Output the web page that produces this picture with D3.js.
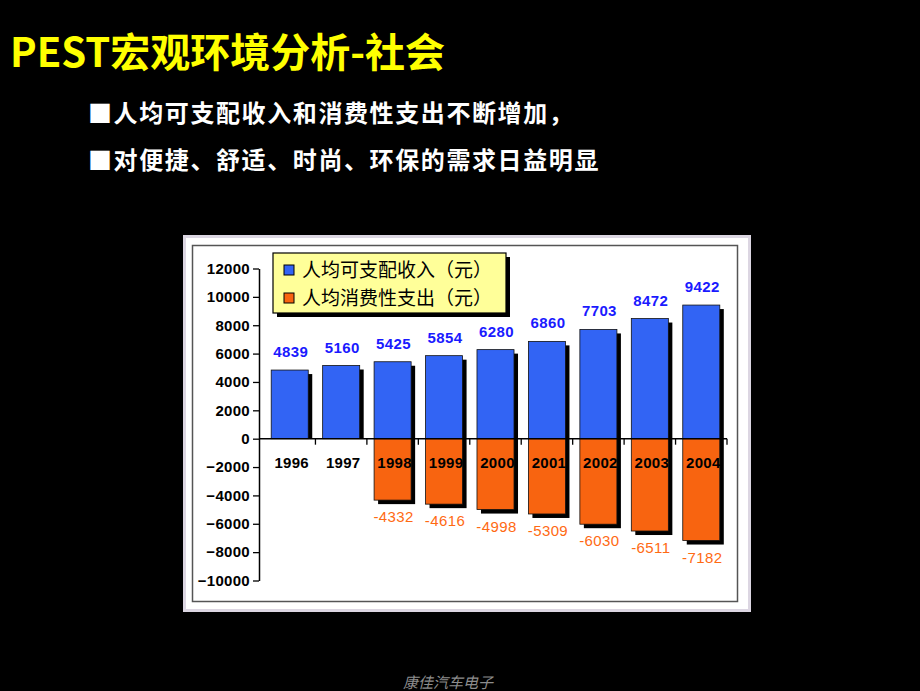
<!DOCTYPE html>
<html>
<head>
<meta charset="utf-8">
<script src="https://cdn.jsdelivr.net/npm/d3@7"></script>
<style>
  html, body { margin: 0; padding: 0; background: #000; }
  svg { display: block; }
</style>
</head>
<body>
<svg id="slide"></svg>
<script>
// data
const years = ["1996", "1997", "1998", "1999", "2000", "2001", "2002", "2003", "2004"];
const income = [4839, 5160, 5425, 5854, 6280, 6860, 7703, 8472, 9422];
const spending = [null, null, -4332, -4616, -4998, -5309, -6030, -6511, -7182];
const seriesNames = ["人均可支配收入（元）", "人均消费性支出（元）"];
const yTicks = [12000, 10000, 8000, 6000, 4000, 2000, 0, -2000, -4000, -6000, -8000, -10000];
const bullets = ["■人均可支配收入和消费性支出不断增加，", "■对便捷、舒适、时尚、环保的需求日益明显"];

const width = 920, height = 691;
const cjk = "'Noto Sans CJK SC', 'Noto Sans', sans-serif";
const latin = "'Liberation Sans', Arial, sans-serif";
const blue = "#3264f4", orange = "#f86410";

const svg = d3.select("#slide").attr("width", width).attr("height", height);
svg.append("rect").attr("width", width).attr("height", height).attr("fill", "#000");

// title + bullets
svg.append("text")
  .attr("x", 10).attr("y", 67)
  .attr("fill", "#ffff00")
  .style("font-family", cjk).style("font-weight", "bold").style("font-size", "40px")
  .text("PEST宏观环境分析-社会");

svg.selectAll(".bullet")
  .data(bullets)
  .enter()
  .append("text")
  .attr("class", "bullet")
  .attr("x", 88)
  .attr("y", (d, i) => 122 + i * 47)
  .attr("fill", "#fff")
  .style("font-family", cjk).style("font-weight", "bold").style("font-size", "24px")
  .style("letter-spacing", "1.6px")
  .text(d => d);

// chart panel
svg.append("rect")
  .attr("x", 184.5).attr("y", 236.5).attr("width", 565).attr("height", 374)
  .attr("fill", "#fff").attr("stroke", "#dcd6e2").attr("stroke-width", 3);
svg.append("rect")
  .attr("x", 192.5).attr("y", 245.5).attr("width", 545).attr("height", 356)
  .attr("fill", "none").attr("stroke", "#555").attr("stroke-width", 1.5);

const xScale = d3.scaleBand()
  .domain(years)
  .range([264, 727])
  .paddingInner(0.28)
  .paddingOuter(0.14);

const yScale = d3.scaleLinear()
  .domain([-10000, 12000])
  .range([580.5, 268.5]);

const y0 = yScale(0);
const bw = xScale.bandwidth();
const sh = 4;

const incomeData = years.map((y, i) => ({ year: y, v: income[i] }));
const spendData = years.map((y, i) => ({ year: y, v: spending[i] })).filter(d => d.v != null);

// shadows
svg.selectAll(".shadowPos")
  .data(incomeData)
  .enter()
  .append("rect")
  .attr("x", d => xScale(d.year) + sh)
  .attr("y", d => yScale(d.v) + sh)
  .attr("width", bw)
  .attr("height", d => y0 - yScale(d.v) - sh)
  .attr("fill", "#000");

svg.selectAll(".shadowNeg")
  .data(spendData)
  .enter()
  .append("rect")
  .attr("x", d => xScale(d.year) + sh)
  .attr("y", y0)
  .attr("width", bw)
  .attr("height", d => yScale(d.v) - y0 + sh)
  .attr("fill", "#000");

// bars
svg.selectAll(".barPos")
  .data(incomeData)
  .enter()
  .append("rect")
  .attr("x", d => xScale(d.year))
  .attr("y", d => yScale(d.v))
  .attr("width", bw)
  .attr("height", d => y0 - yScale(d.v))
  .attr("fill", blue)
  .attr("stroke", "#111").attr("stroke-width", 0.8);

svg.selectAll(".barNeg")
  .data(spendData)
  .enter()
  .append("rect")
  .attr("x", d => xScale(d.year))
  .attr("y", y0)
  .attr("width", bw)
  .attr("height", d => yScale(d.v) - y0)
  .attr("fill", orange)
  .attr("stroke", "#111").attr("stroke-width", 0.8);

// value labels
svg.selectAll(".lblPos")
  .data(incomeData)
  .enter()
  .append("text")
  .attr("x", d => xScale(d.year) + bw / 2 + 1)
  .attr("y", d => yScale(d.v) - 13)
  .attr("text-anchor", "middle")
  .attr("fill", "#1a1aff")
  .style("font-family", latin).style("font-weight", "bold").style("font-size", "15px")
  .style("letter-spacing", "0.4px")
  .text(d => d.v);

svg.selectAll(".lblNeg")
  .data(spendData)
  .enter()
  .append("text")
  .attr("x", d => xScale(d.year) + bw / 2 + 1)
  .attr("y", d => yScale(d.v) + 22)
  .attr("text-anchor", "middle")
  .attr("fill", "#ff6a13")
  .style("font-family", latin).style("font-size", "15px")
  .style("letter-spacing", "0.4px")
  .text(d => d.v);

// y axis
const yAxis = d3.axisLeft(yScale)
  .tickValues(yTicks)
  .tickFormat(d3.format("d"))
  .tickSize(6)
  .tickSizeOuter(0)
  .tickPadding(3);

const gy = svg.append("g")
  .attr("transform", "translate(259,0)")
  .call(yAxis);
gy.select(".domain").attr("stroke", "#000").attr("stroke-width", 1.5);
gy.selectAll(".tick line").attr("stroke", "#000").attr("stroke-width", 1.3);
gy.selectAll("text")
  .attr("fill", "#000")
  .style("font-family", latin).style("font-weight", "bold").style("font-size", "15px")
  .style("letter-spacing", "0.3px");

// x axis
const xAxis = d3.axisBottom(xScale).tickSize(0).tickPadding(19);
const gx = svg.append("g")
  .attr("transform", "translate(0," + y0 + ")")
  .call(xAxis);
gx.select(".domain").remove();
gx.selectAll("text")
  .attr("dx", 2)
  .attr("fill", "#000")
  .style("font-family", latin).style("font-weight", "bold").style("font-size", "15px")
  .style("letter-spacing", "0.3px");

svg.append("line")
  .attr("x1", 259).attr("x2", xScale.range()[1])
  .attr("y1", y0).attr("y2", y0)
  .attr("stroke", "#000").attr("stroke-width", 1.5);

// category separators
const step = xScale.step();
gx.selectAll(".sep")
  .data(years)
  .enter()
  .append("line")
  .attr("x1", (d, i) => xScale.range()[0] + (i + 1) * step)
  .attr("x2", (d, i) => xScale.range()[0] + (i + 1) * step)
  .attr("y1", 0).attr("y2", 6)
  .attr("stroke", "#000").attr("stroke-width", 1.3);

// legend
const legend = svg.append("g").attr("transform", "translate(273,253)");
legend.append("rect")
  .attr("x", 4).attr("y", 4).attr("width", 233).attr("height", 60)
  .attr("fill", "#000");
legend.append("rect")
  .attr("width", 233).attr("height", 60)
  .attr("fill", "#ffff99").attr("stroke", "#000").attr("stroke-width", 1.2);

const items = legend.selectAll(".item")
  .data(seriesNames)
  .enter()
  .append("g")
  .attr("transform", (d, i) => "translate(11," + (12 + i * 28) + ")");
items.append("rect")
  .attr("width", 10).attr("height", 10)
  .attr("fill", (d, i) => (i === 0 ? blue : orange))
  .attr("stroke", "#000").attr("stroke-width", 1);
items.append("text")
  .attr("x", 18).attr("y", 12)
  .attr("fill", "#000")
  .style("font-family", cjk).style("font-size", "19px")
  .text(d => d);

// footer
svg.append("text")
  .attr("x", 448).attr("y", 688)
  .attr("text-anchor", "middle")
  .attr("fill", "#8c8c8c")
  .style("font-family", cjk).style("font-style", "italic").style("font-size", "15px")
  .text("康佳汽车电子");
</script>
</body>
</html>
